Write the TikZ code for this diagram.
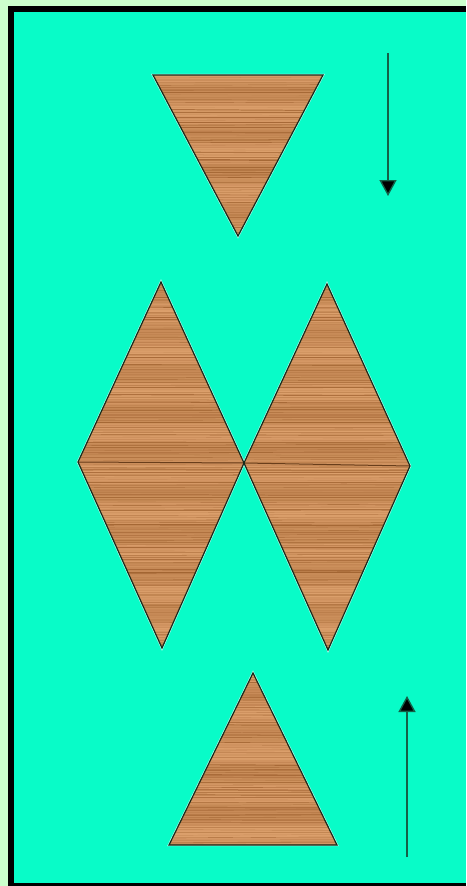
\documentclass[tikz,border=0pt]{standalone}
\usetikzlibrary{arrows.meta}

\definecolor{bgteal}{RGB}{8,252,200}
\definecolor{paleframe}{RGB}{204,255,204}
\definecolor{woodlight}{RGB}{224,164,112}
\definecolor{wooddark}{RGB}{150,88,38}
\definecolor{edgecol}{RGB}{24,44,28}

\tikzset{
  edge/.style={draw=edgecol, line width=1.2pt, line join=miter},
  halo/.style={draw=white!70!bgteal, line width=2.4pt},
  seam/.style={draw=wooddark!70!black, line width=1pt},
  motion/.style={draw=edgecol!75!bgteal, line width=1.4pt,
    -{Triangle[width=17pt,length=16pt,fill=black]}}
}

\begin{document}
\begin{tikzpicture}[x=1pt,y=-1pt]
\useasboundingbox (0,0) rectangle (466,886);

% frame
\fill[paleframe] (0,0) rectangle (466,886);
\fill[black] (8,6) rectangle (466,886);
\fill[bgteal] (14,12) rectangle (466,883);

% corners of the pieces
\coordinate (tl) at (153,75);
\coordinate (tr) at (323,75);
\coordinate (tb) at (238,236);
\coordinate (at) at (161,282);
\coordinate (al) at (78,462);
\coordinate (mid) at (244,463);
\coordinate (ab) at (162,648);
\coordinate (bt) at (327,284);
\coordinate (br) at (410,466);
\coordinate (bb) at (328,650);
\coordinate (ct) at (253,673);
\coordinate (cl) at (169,845);
\coordinate (cr) at (337,845);

% halos
\draw[halo] (tl) -- (tr) -- (tb) -- cycle;
\draw[halo] (at) -- (mid) -- (ab) -- (al) -- cycle;
\draw[halo] (bt) -- (br) -- (bb) -- (mid) -- cycle;
\draw[halo] (ct) -- (cr) -- (cl) -- cycle;

% wood
\begin{scope}
  \clip (tl) -- (tr) -- (tb) -- cycle
        (at) -- (mid) -- (ab) -- (al) -- cycle
        (bt) -- (br) -- (bb) -- (mid) -- cycle
        (ct) -- (cr) -- (cl) -- cycle;
  \fill[woodlight] (60,60) rectangle (420,860);
  % broad bands
  \foreach \yy in {70,76,...,850} {
    \pgfmathsetmacro\op{0.14*(1+sin(\yy*9))+0.05}
    \fill[wooddark, opacity=\op] (60,\yy) rectangle (420,\yy+6);
  }
  % fine grain
  \pgfmathsetseed{17}
  \foreach \yy in {70,72.5,...,850} {
    \pgfmathsetmacro\op{0.15+0.6*rnd}
    \pgfmathsetmacro\lw{0.3+1.2*rnd}
    \pgfmathsetmacro\dy{1.5*rand}
    \draw[wooddark, opacity=\op, line width=\lw]
      (60,\yy) .. controls (180,\yy+\dy) and (300,\yy-\dy) .. (420,\yy);
  }
\end{scope}

% seams
\draw[seam] (al) -- (mid) -- (br);

% edges
\draw[edge] (tl) -- (tr) -- (tb) -- cycle;
\draw[edge] (at) -- (mid) -- (ab) -- (al) -- cycle;
\draw[edge] (bt) -- (br) -- (bb) -- (mid) -- cycle;
\draw[edge] (ct) -- (cr) -- (cl) -- cycle;

% arrows
\coordinate (downstart) at (388,53);
\coordinate (downend) at (388,196);
\coordinate (upstart) at (407,857);
\coordinate (upend) at (407,696);
\draw[motion] (downstart) -- (downend);
\draw[motion] (upstart) -- (upend);
\end{tikzpicture}
\end{document}
